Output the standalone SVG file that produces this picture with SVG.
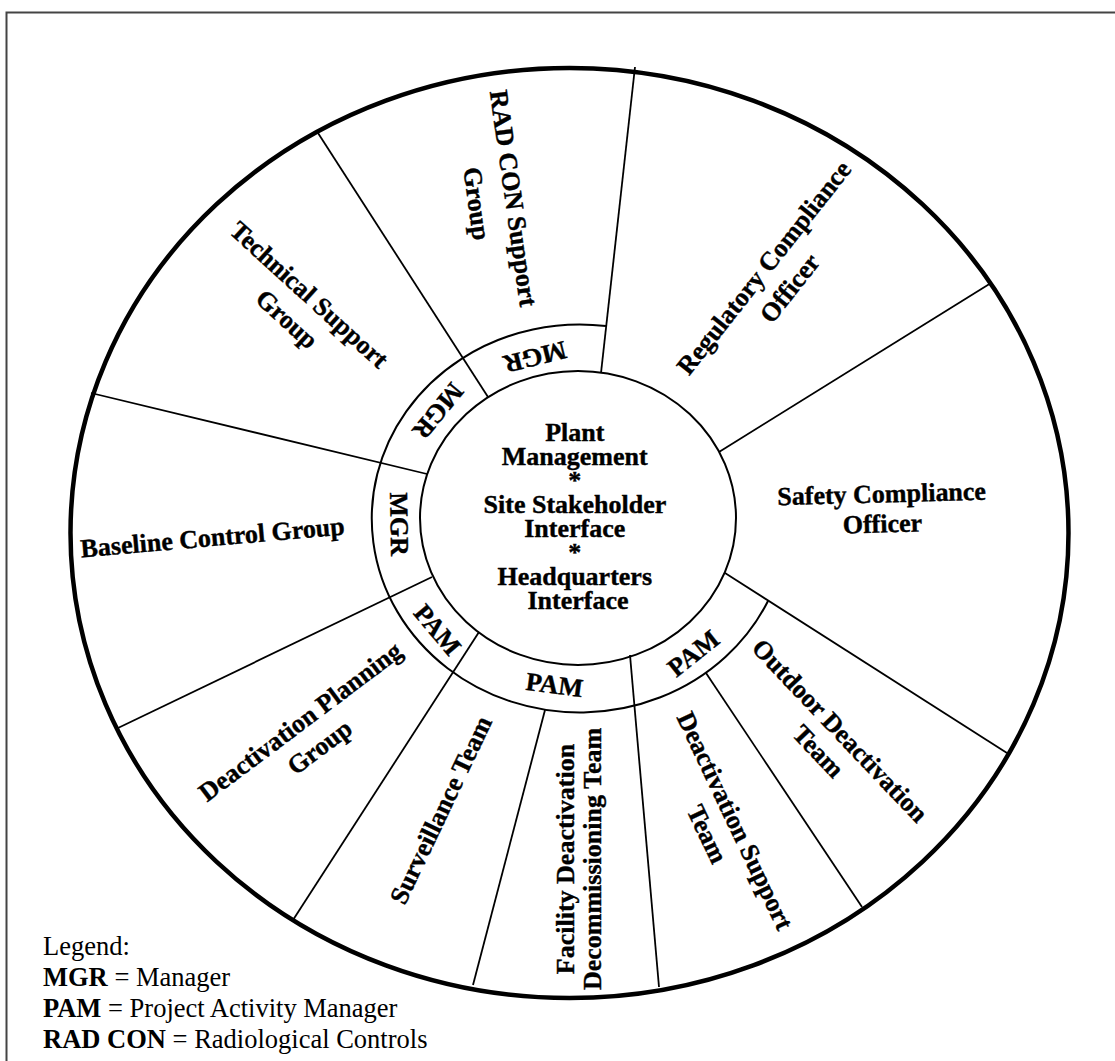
<svg xmlns="http://www.w3.org/2000/svg" width="1115" height="1061" viewBox="0 0 1115 1061">
<style>
.lbl{font-family:"Liberation Serif","Times New Roman",serif;font-size:26px;font-weight:bold;fill:#000;stroke:#000;stroke-width:0.4;text-anchor:middle}
.leg{font-family:"Liberation Serif","Times New Roman",serif;font-size:26.5px;fill:#000}
.b{font-weight:bold}
.div{stroke:#000;stroke-width:1.8;fill:none}
.thin{fill:none;stroke:#000;stroke-width:2}
</style>
<rect width="1115" height="1061" fill="#fff"/>
<g id="frame"><path d="M6.5,1061 V12.5 H1115" fill="none" stroke="#444" stroke-width="2"/></g>
<g id="wheel">
<ellipse id="outer-ring" cx="569.5" cy="533" rx="499" ry="465" fill="none" stroke="#000" stroke-width="4.5"/>
<ellipse id="core-ring" class="thin" cx="578" cy="518" rx="158" ry="147"/>
<path id="manager-ring" class="thin" d="M606,326 A208,194 0 1 0 768,601"/>
</g>
<g id="connectors" class="div">
<line x1="318" y1="133" x2="488" y2="397"/>
<line x1="635" y1="67" x2="601" y2="373"/>
<line x1="991" y1="283" x2="719" y2="452"/>
<line x1="1007" y1="753" x2="725" y2="573"/>
<line x1="862" y1="907" x2="706" y2="673"/>
<line x1="659" y1="987" x2="630" y2="655"/>
<line x1="473" y1="985" x2="545" y2="710"/>
<line x1="293" y1="920" x2="479" y2="632"/>
<line x1="118" y1="728" x2="432" y2="577"/>
<line x1="91" y1="393" x2="427" y2="474"/>
</g>
<g id="center">
<text class="lbl">
<tspan x="578" y="441">Plant</tspan>
<tspan x="578" y="465">Management</tspan>
<tspan x="578" y="489">*</tspan>
<tspan x="578" y="513">Site Stakeholder</tspan>
<tspan x="578" y="537">Interface</tspan>
<tspan x="578" y="561">*</tspan>
<tspan x="578" y="585">Headquarters</tspan>
<tspan x="578" y="609">Interface</tspan>
</text>
</g>
<g id="technical-support" transform="translate(298,307) rotate(42.3)"><text class="lbl"><tspan x="0" y="-8">Technical Support</tspan><tspan x="0" y="25">Group</tspan></text></g>
<g id="radcon-support" transform="translate(495,201) rotate(82)"><text class="lbl"><tspan x="0" y="-10">RAD CON Support</tspan><tspan x="0" y="27">Group</tspan></text></g>
<g id="regulatory-compliance" transform="translate(777,278) rotate(-51.7)"><text class="lbl"><tspan x="0" y="-8">Regulatory Compliance</tspan><tspan x="0" y="25">Officer</tspan></text></g>
<g id="safety-compliance" transform="translate(882,509) rotate(-1.5)"><text class="lbl"><tspan x="0" y="-6.5">Safety Compliance</tspan><tspan x="0" y="23.5">Officer</tspan></text></g>
<g id="baseline-control" transform="translate(212.5,537.5) rotate(-5)"><text class="lbl" x="0" y="8.5">Baseline Control Group</text></g>
<g id="deactivation-planning" transform="translate(310,734.5) rotate(-36.9)"><text class="lbl"><tspan x="0" y="-7.5">Deactivation Planning</tspan><tspan x="0" y="24.5">Group</tspan></text></g>
<g id="surveillance" transform="translate(441,810) rotate(-64.5)"><text class="lbl" x="0" y="8.5">Surveillance Team</text></g>
<g id="facility-deactivation" transform="translate(579,859) rotate(-90)"><text class="lbl"><tspan x="0" y="-5">Facility Deactivation</tspan><tspan x="0" y="22">Decommissioning Team</tspan></text></g>
<g id="deactivation-support" transform="translate(721,827.5) rotate(64.6)"><text class="lbl"><tspan x="0" y="-7">Deactivation Support</tspan><tspan x="0" y="24">Team</tspan></text></g>
<g id="outdoor-deactivation" transform="translate(829,741) rotate(46.4)"><text class="lbl"><tspan x="0" y="-6.5">Outdoor Deactivation</tspan><tspan x="0" y="23.5">Team</tspan></text></g>
<g id="mgr-top" transform="translate(535,357) rotate(166)"><text class="lbl" x="0" y="8.5">MGR</text></g>
<g id="mgr-upper-left" transform="translate(438,411) rotate(129.4)"><text class="lbl" x="0" y="8.5">MGR</text></g>
<g id="mgr-left" transform="translate(399,524) rotate(89)"><text class="lbl" x="0" y="8.5">MGR</text></g>
<g id="pam-lower-left" transform="translate(437.5,630) rotate(50)"><text class="lbl" x="0" y="8.5">PAM</text></g>
<g id="pam-bottom" transform="translate(554.5,685) rotate(7.5)"><text class="lbl" x="0" y="8.5">PAM</text></g>
<g id="pam-lower-right" transform="translate(693.5,653.5) rotate(-38.4)"><text class="lbl" x="0" y="8.5">PAM</text></g>
<g id="legend">
<text class="leg" x="43" y="955">Legend:</text>
<text class="leg" x="43" y="986"><tspan class="b">MGR</tspan> = Manager</text>
<text class="leg" x="43" y="1017"><tspan class="b">PAM</tspan> = Project Activity Manager</text>
<text class="leg" x="43" y="1048"><tspan class="b">RAD CON</tspan> = Radiological Controls</text>
</g>
</svg>
